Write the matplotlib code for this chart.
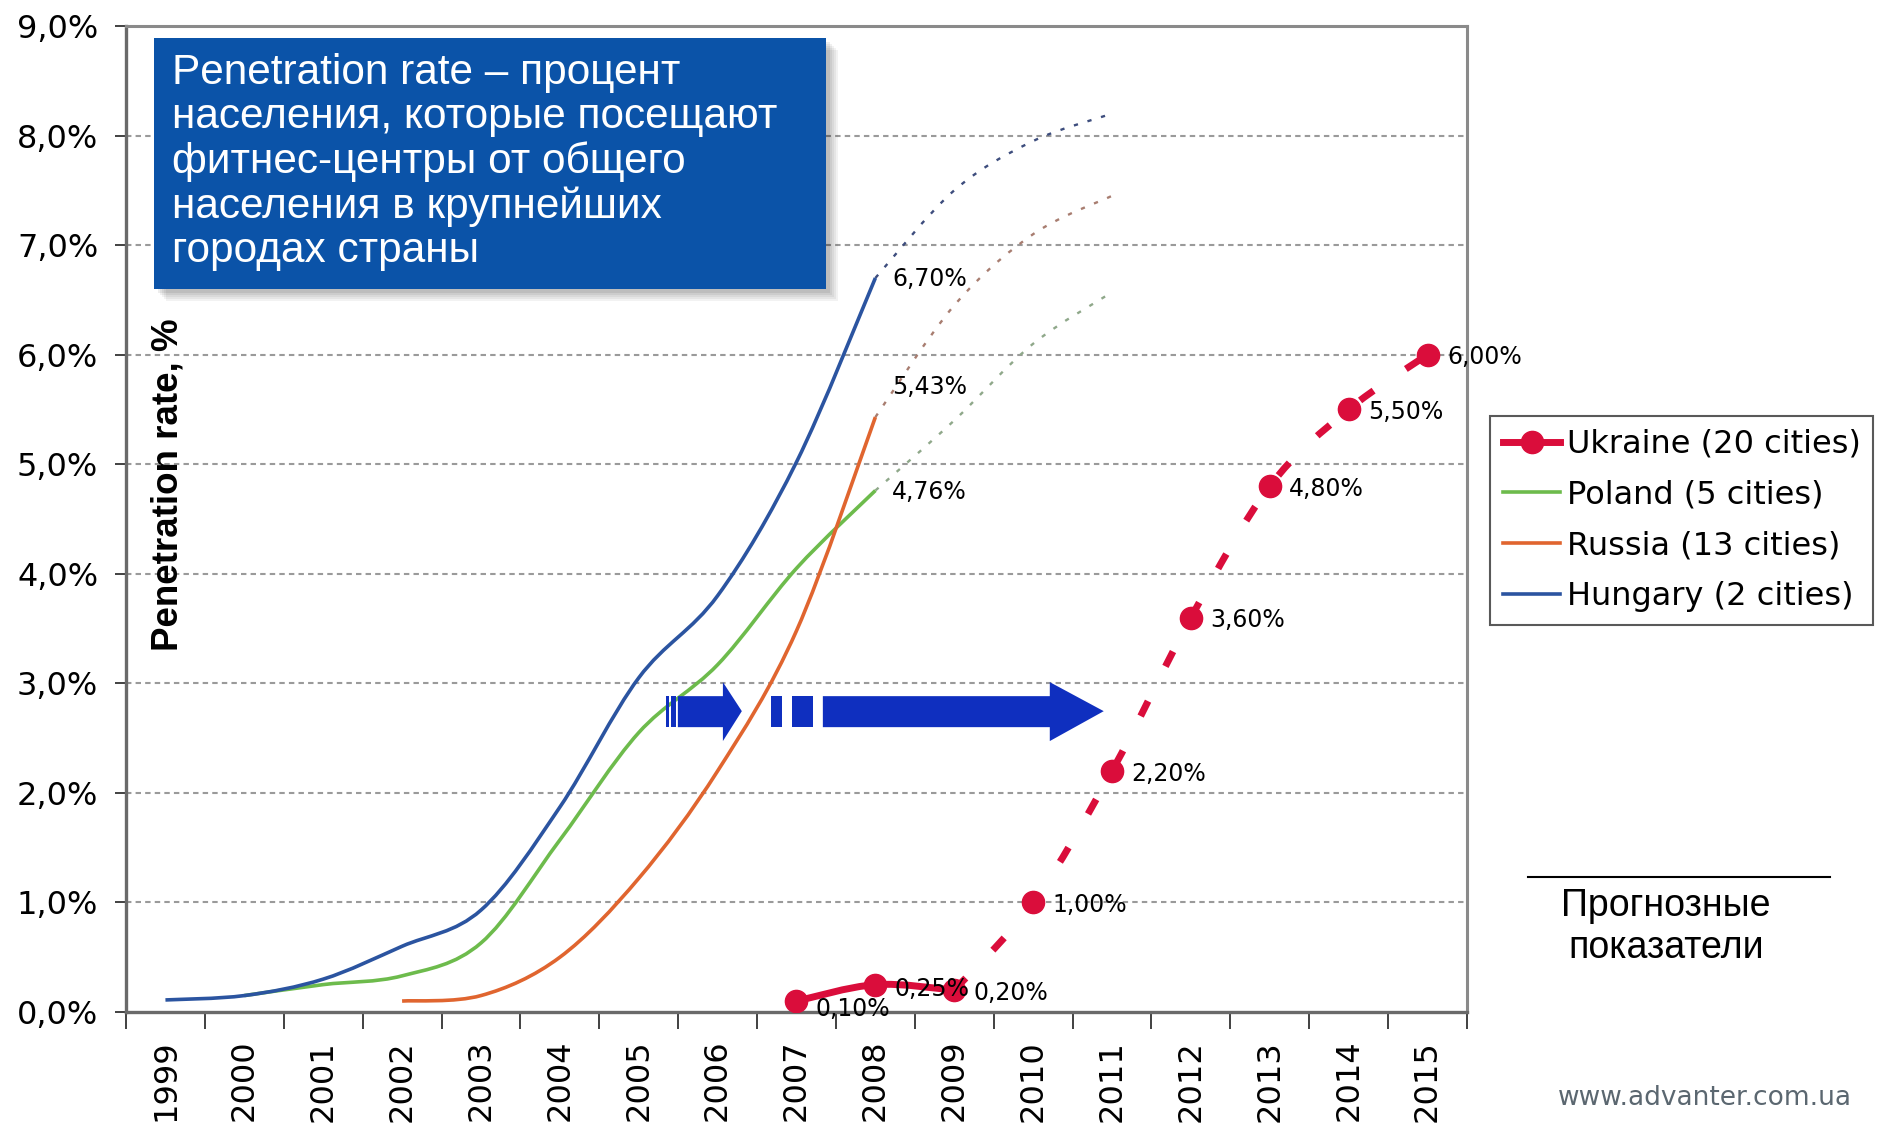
import numpy as np
import matplotlib
matplotlib.use("Agg")
import matplotlib.pyplot as plt
from matplotlib.path import Path
from matplotlib.patches import PathPatch, Rectangle, Polygon
from matplotlib.lines import Line2D
from matplotlib import font_manager as fm

# ---------------- data ----------------
years = list(range(1999, 2016))
categories = [str(y) for y in years]

hungary_years = [1999, 2000, 2001, 2002, 2003, 2004, 2005, 2006, 2007, 2008]
hungary_vals = [0.11, 0.15, 0.30, 0.60, 0.93, 1.87, 3.05, 3.80, 5.02, 6.70]
hungary_fc_years = [2008, 2009, 2010, 2011]
hungary_fc_vals = [6.70, 7.50, 7.95, 8.20]

poland_years = [2000, 2001, 2002, 2003, 2004, 2005, 2006, 2007, 2008]
poland_vals = [0.15, 0.25, 0.33, 0.63, 1.57, 2.55, 3.17, 4.05, 4.76]
poland_fc_years = [2008, 2009, 2010, 2011]
poland_fc_vals = [4.76, 5.40, 6.10, 6.57]

russia_years = [2002, 2003, 2004, 2005, 2006, 2007, 2008]
russia_vals = [0.10, 0.15, 0.50, 1.22, 2.20, 3.48, 5.43]
russia_fc_years = [2008, 2009, 2010, 2011]
russia_fc_vals = [5.43, 6.45, 7.10, 7.45]

ukraine_years = [2007, 2008, 2009]
ukraine_vals = [0.10, 0.25, 0.20]
ukraine_fc_years = [2009, 2010, 2011, 2012, 2013, 2014, 2015]
ukraine_fc_vals = [0.20, 1.00, 2.20, 3.60, 4.80, 5.50, 6.00]

series_labels = ["Ukraine (20 cities)", "Poland (5 cities)",
                 "Russia (13 cities)", "Hungary (2 cities)"]

box_text = ("Penetration rate – процент\nнаселения, которые посещают\n"
            "фитнес-центры от общего\nнаселения в крупнейших\nгородах страны")
y_label = "Penetration rate, %"
forecast_text = "Прогнозные\nпоказатели"
site_text = "www.advanter.com.ua"

# ---------------- styles ----------------
C_HUN = "#2B54A0"
C_POL = "#6DBB4C"
C_RUS = "#E0652F"
C_UKR = "#DA0D3B"
C_HUN_FC = "#3D4D7D"
C_POL_FC = "#8FA88A"
C_RUS_FC = "#A87D70"


def has_font(name):
    try:
        fm.findfont(fm.FontProperties(family=name), fallback_to_default=False)
        return True
    except Exception:
        return False


NARROW = "Liberation Sans Narrow" if has_font("Liberation Sans Narrow") else "Liberation Sans"
ARIAL = "Liberation Sans"

plt.rcParams["font.family"] = ["DejaVu Sans"]

W, H = 1881, 1123
fig = plt.figure(figsize=(W / 100, H / 100), dpi=100)
L, R, T, B = 126, 1467, 26, 1012
ax = fig.add_axes([L / W, 1 - B / H, (R - L) / W, (B - T) / H])

xi = {y: i for i, y in enumerate(years)}


def to_x(yrs):
    return [xi[y] for y in yrs]


def smooth_path(xs, ys):
    pts = np.column_stack([xs, ys]).astype(float)
    n = len(pts)
    verts = [pts[0]]
    codes = [Path.MOVETO]
    for i in range(n - 1):
        p0 = pts[i - 1] if i > 0 else pts[i]
        p1 = pts[i]
        p2 = pts[i + 1]
        p3 = pts[i + 2] if i + 2 < n else pts[i + 1]
        c1 = p1 + (p2 - p0) / 6.0
        c2 = p2 - (p3 - p1) / 6.0
        verts += [c1, c2, p2]
        codes += [Path.CURVE4] * 3
    return Path(verts, codes)


def draw_curve(yrs, vals, color, lw, ls="-", z=3):
    p = PathPatch(smooth_path(to_x(yrs), vals), fill=False, edgecolor=color,
                  lw=lw, linestyle=ls, zorder=z, capstyle="butt")
    ax.add_patch(p)


ax.set_xlim(-0.5, len(years) - 0.5)
ax.set_ylim(0, 9)

# grid
for v in range(1, 9):
    ax.axhline(v, color="#9A9A9A", lw=1.5, linestyle=(0, (2.6, 2.0)), zorder=1)

# forecast dotted lines
draw_curve(hungary_fc_years, hungary_fc_vals, C_HUN_FC, 1.7, (0, (1.8, 4.2)))
draw_curve(russia_fc_years, russia_fc_vals, C_RUS_FC, 1.7, (0, (1.8, 4.2)))
draw_curve(poland_fc_years, poland_fc_vals, C_POL_FC, 1.7, (0, (1.8, 4.2)))

# actual lines
draw_curve(poland_years, poland_vals, C_POL, 2.6)
draw_curve(russia_years, russia_vals, C_RUS, 2.6)
draw_curve(hungary_years, hungary_vals, C_HUN, 2.6)

# Ukraine
draw_curve(ukraine_fc_years, ukraine_fc_vals, C_UKR, 5.0, (0, (2.4, 5.6)), z=4)
draw_curve(ukraine_years, ukraine_vals, C_UKR, 5.0, "-", z=4)
ax.plot(to_x(ukraine_years), ukraine_vals, "o", color=C_UKR, ms=16, zorder=5)
ax.plot(to_x(ukraine_fc_years[1:]), ukraine_fc_vals[1:], "o", color=C_UKR, ms=16, zorder=5)


def fmt(v):
    return f"{v:.2f}%".replace(".", ",")


lab_kw = dict(fontsize=17, color="black", va="center", ha="left",
              textcoords="offset points", zorder=6)
ax.annotate(fmt(hungary_vals[-1]), (xi[2008], hungary_vals[-1]), xytext=(12, -1), **lab_kw)
ax.annotate(fmt(russia_vals[-1]), (xi[2008], russia_vals[-1]), xytext=(12, 22), **lab_kw)
ax.annotate(fmt(poland_vals[-1]), (xi[2008], poland_vals[-1]), xytext=(12, -1), **lab_kw)
ukr_offsets = {2007: (14, -6), 2008: (14, -3), 2009: (14, -2)}
for y, v in zip(ukraine_years, ukraine_vals):
    ax.annotate(fmt(v), (xi[y], v), xytext=ukr_offsets[y], **lab_kw)
for y, v in zip(ukraine_fc_years[1:], ukraine_fc_vals[1:]):
    ax.annotate(fmt(v), (xi[y], v), xytext=(14, -2), **lab_kw)

# axes styling
for s in ["top", "right"]:
    ax.spines[s].set_color("#8A8A8A")
    ax.spines[s].set_linewidth(2.2)
for s in ["left", "bottom"]:
    ax.spines[s].set_color("#6A6A6A")
    ax.spines[s].set_linewidth(2.4)

ax.set_yticks(range(0, 10))
ax.set_yticklabels([f"{v},0%" for v in range(0, 10)], fontsize=23)
ax.tick_params(axis="y", length=8, width=1.3, pad=12, color="#333333")

ax.set_xticks(range(len(years)))
ax.set_xticklabels(categories, rotation=90, fontsize=23, va="top")
ax.tick_params(axis="x", which="major", length=0, pad=20)
ax.set_xticks(np.arange(-0.5, len(years), 1.0), minor=True)
ax.tick_params(axis="x", which="minor", length=12, width=1.3, color="#333333")

# y label inside plot
fig.text(168 / W, 1 - 485 / H, y_label, rotation=90, ha="center", va="center",
         fontsize=26.5, fontweight="bold", family=[NARROW, "DejaVu Sans"])

# blue text box with shadow
bx0, by0, bx1, by1 = 154, 38, 826, 289
for k, a in enumerate([0.05, 0.05, 0.05, 0.06, 0.07]):
    off = 12 - 2 * k
    fig.patches.append(Rectangle(((bx0 + off) / W, 1 - (by1 + off) / H),
                                 (bx1 - bx0) / W, (by1 - by0) / H,
                                 transform=fig.transFigure, facecolor="black",
                                 edgecolor="none", alpha=a, zorder=7))
fig.patches.append(Rectangle((bx0 / W, 1 - by1 / H), (bx1 - bx0) / W, (by1 - by0) / H,
                             transform=fig.transFigure, facecolor="#0B53A8",
                             edgecolor="none", zorder=8))
fig.text(172 / W, 1 - 162 / H, box_text, ha="left", va="center", color="white",
         fontsize=30.5, family=[ARIAL, "DejaVu Sans"], linespacing=1.13, zorder=9)

# blue arrows (data-space annotation shapes)
ac = "#0F2FBF"
yb0, yb1, yh0, yh1, ytip = 2.60, 2.883, 2.473, 3.011, 2.746
ax.add_patch(Rectangle((6.344, yb0), 0.038, yb1 - yb0, color=ac, zorder=6, lw=0))
ax.add_patch(Rectangle((6.408, yb0), 0.063, yb1 - yb0, color=ac, zorder=6, lw=0))
ax.add_patch(Polygon([(6.496, yb0), (7.067, yb0), (7.067, yh0), (7.307, ytip),
                      (7.067, yh1), (7.067, yb1), (6.496, yb1)], closed=True,
                     color=ac, zorder=6, lw=0))
ax.add_patch(Rectangle((7.675, yb0), 0.139, yb1 - yb0, color=ac, zorder=6, lw=0))
ax.add_patch(Rectangle((7.941, yb0), 0.266, yb1 - yb0, color=ac, zorder=6, lw=0))
ax.add_patch(Polygon([(8.334, yb0), (11.211, yb0), (11.211, yh0), (11.895, ytip),
                      (11.211, yh1), (11.211, yb1), (8.334, yb1)], closed=True,
                     color=ac, zorder=6, lw=0))

# legend
handles = [
    Line2D([], [], color=C_UKR, lw=5, marker="o", ms=16),
    Line2D([], [], color=C_POL, lw=2.6),
    Line2D([], [], color=C_RUS, lw=2.6),
    Line2D([], [], color=C_HUN, lw=2.6),
]
leg = fig.legend(handles, series_labels, loc="upper left",
                 bbox_to_anchor=(1490 / W, 1 - 416 / H), fontsize=23,
                 frameon=True, fancybox=False, shadow=False, borderpad=0.4,
                 labelspacing=0.62, handlelength=1.8, handletextpad=0.2,
                 borderaxespad=0)
leg.get_frame().set_edgecolor("#303030")
leg.get_frame().set_linewidth(1.5)

# forecast note
fig.add_artist(Line2D([1528 / W, 1830 / W], [1 - 877 / H, 1 - 877 / H],
                      color="black", lw=1.5, transform=fig.transFigure))
fig.text(1666 / W, 1 - 927 / H, forecast_text, ha="center", va="center",
         fontsize=27, family=[ARIAL, "DejaVu Sans"], linespacing=1.2)
fig.text(1558 / W, 1 - 1098 / H, site_text, ha="left", va="center",
         fontsize=19, color="#5B6770")

fig.savefig("out.png", dpi=100)
